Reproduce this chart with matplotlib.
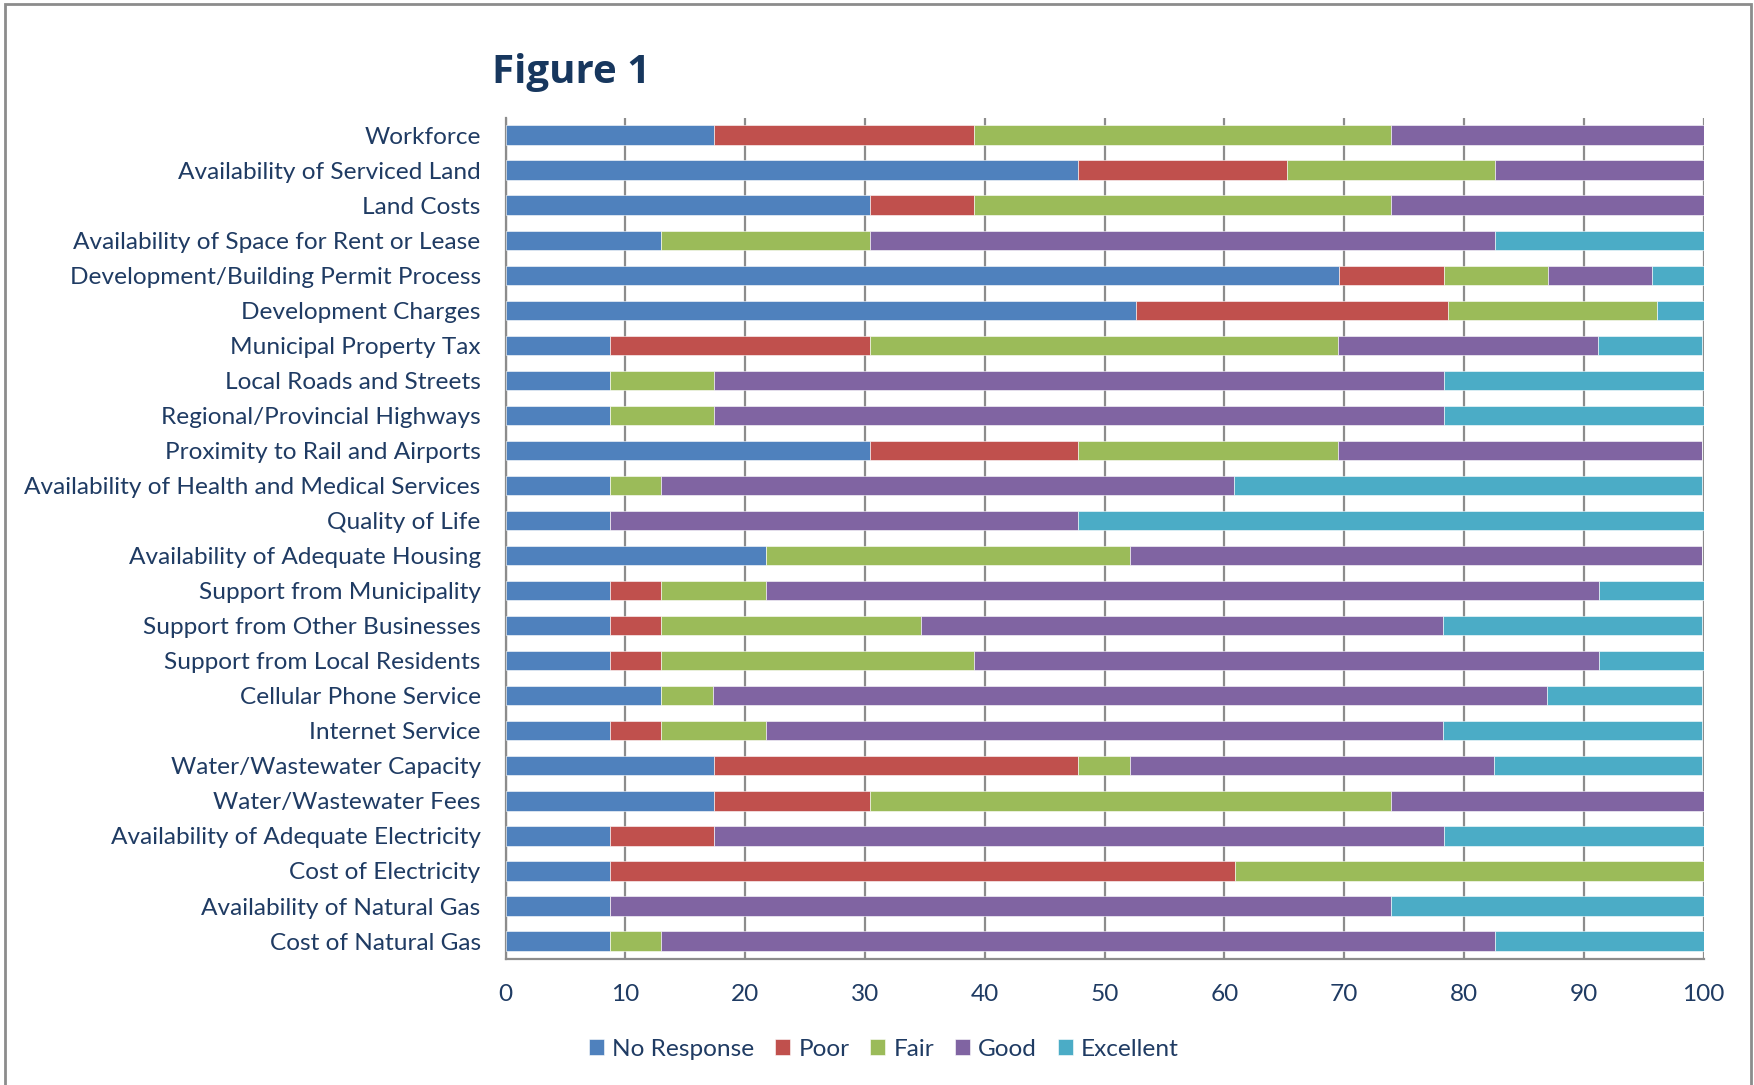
import matplotlib
matplotlib.use("Agg")
import matplotlib.pyplot as plt
import numpy as np

categories = [
    "Workforce",
    "Availability of Serviced Land",
    "Land Costs",
    "Availability of Space for Rent or Lease",
    "Development/Building Permit Process",
    "Development Charges",
    "Municipal Property Tax",
    "Local Roads and Streets",
    "Regional/Provincial Highways",
    "Proximity to Rail and Airports",
    "Availability of Health and Medical Services",
    "Quality of Life",
    "Availability of Adequate Housing",
    "Support from Municipality",
    "Support from Other Businesses",
    "Support from Local Residents",
    "Cellular Phone Service",
    "Internet Service",
    "Water/Wastewater Capacity",
    "Water/Wastewater Fees",
    "Availability of Adequate Electricity",
    "Cost of Electricity",
    "Availability of Natural Gas",
    "Cost of Natural Gas",
]

no_response = [17.4, 47.8, 30.4, 13.0, 69.6, 52.6, 8.7, 8.7, 8.7, 30.4, 8.7, 8.7,
               21.7, 8.7, 8.7, 8.7, 13.0, 8.7, 17.4, 17.4, 8.7, 8.7, 8.7, 8.7]
poor = [21.7, 17.4, 8.7, 0.0, 8.7, 26.1, 21.7, 0.0, 0.0, 17.4, 0.0, 0.0,
        0.0, 4.3, 4.3, 4.3, 0.0, 4.3, 30.4, 13.0, 8.7, 52.2, 0.0, 0.0]
fair = [34.8, 17.4, 34.8, 17.4, 8.7, 17.4, 39.1, 8.7, 8.7, 21.7, 4.3, 0.0,
        30.4, 8.7, 21.7, 26.1, 4.3, 8.7, 4.3, 43.5, 0.0, 39.1, 0.0, 4.3]
good = [26.1, 17.4, 26.1, 52.2, 8.7, 0.0, 21.7, 60.9, 60.9, 30.4, 47.8, 39.1,
        47.8, 69.6, 43.5, 52.2, 69.6, 56.5, 30.4, 26.1, 60.9, 0.0, 65.2, 69.6]
excellent = [0.0, 0.0, 0.0, 17.4, 4.3, 4.3, 8.7, 21.7, 21.7, 0.0, 39.1, 52.2,
             0.0, 8.7, 21.7, 8.7, 13.0, 21.7, 17.4, 0.0, 21.7, 0.0, 26.1, 17.4]

series_names = ["No Response", "Poor", "Fair", "Good", "Excellent"]
series_colors = ["#4F81BD", "#C0504D", "#9BBB59", "#8064A2", "#4BACC6"]
x_ticks = [0, 10, 20, 30, 40, 50, 60, 70, 80, 90, 100]

TXT = "#1F3B63"
FONT = ["Lato", "DejaVu Sans"]
plt.rcParams["font.family"] = FONT
FS = 17.6

fig = plt.figure(figsize=(17.54, 10.85), dpi=100)
ax = fig.add_axes([0.2883, 0.1165, 0.9713 - 0.2883, 0.8917 - 0.1165])

y = np.arange(len(categories))
left = np.zeros(len(categories))
for name, vals, col in zip(series_names, [no_response, poor, fair, good, excellent], series_colors):
    vals = np.array(vals)
    ax.barh(y, vals, left=left, height=0.55, color=col, label=name,
            edgecolor="white", linewidth=0.4, zorder=3)
    left = left + vals

ax.set_ylim(len(categories) - 0.5, -0.5)
ax.set_xlim(0, 100)
ax.set_xticks(x_ticks)
ax.set_yticks(y)
ax.set_yticklabels(categories, fontsize=FS, color=TXT)
ax.tick_params(axis="y", length=0, pad=18)
ax.tick_params(axis="x", length=0, pad=18, labelsize=FS, labelcolor=TXT)
ax.grid(axis="x", color="#8C8C8C", linewidth=1.6, zorder=0)
ax.set_axisbelow(True)
for s in ["top", "right"]:
    ax.spines[s].set_visible(False)
for s in ["left", "bottom"]:
    ax.spines[s].set_color("#8C8C8C")
    ax.spines[s].set_linewidth(1.6)

fig.text(492 / 1754, 1 - 73 / 1085, "Figure 1", fontsize=29, fontweight="bold",
         color="#17375E", ha="left", va="center", family=["Open Sans", "DejaVu Sans"])

leg = fig.legend(loc="center", bbox_to_anchor=(884 / 1754, 1 - 1049 / 1085), ncol=5,
                 frameon=False, fontsize=FS, handlelength=0.6, handleheight=0.6,
                 handletextpad=0.35, columnspacing=0.85)
for t in leg.get_texts():
    t.set_color(TXT)

# figure border
from matplotlib.patches import Rectangle
fig.patches.append(Rectangle((5 / 1754, -0.01), (1751 - 5) / 1754, 1 - 4 / 1085 + 0.01,
                             transform=fig.transFigure, fill=False,
                             edgecolor="#8C8C8C", linewidth=2))

fig.savefig("out.png", dpi=100)
